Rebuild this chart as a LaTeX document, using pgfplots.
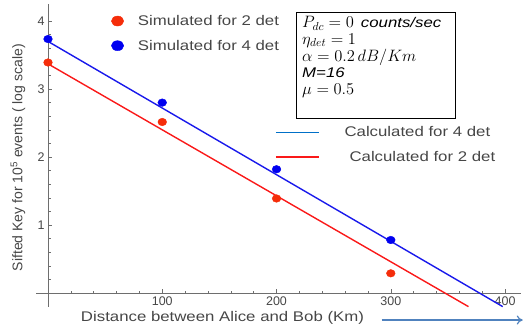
\documentclass[border=0pt]{standalone}
\usepackage{fontspec}
\setmainfont{Liberation Sans}[FakeStretch=1.2]
\newfontfamily\plainsans{Liberation Sans}
\usepackage{fix-cm}
\usepackage{pgfplots}
\pgfplotsset{compat=1.18}
\usetikzlibrary{arrows.meta}
\definecolor{lblue}{RGB}{25,25,235}
\definecolor{lred}{RGB}{250,25,25}
\definecolor{dred}{RGB}{245,45,10}
\definecolor{dblue}{RGB}{0,0,240}
\definecolor{legblue}{RGB}{0,112,200}
\definecolor{axgray}{RGB}{110,110,110}
\definecolor{txtgray}{RGB}{70,70,70}
\definecolor{arrowblue}{RGB}{80,130,190}
\newcommand{\bm}[1]{{\fontsize{16.5}{16.7}\selectfont$#1$}}

\pgfplotsset{
  common/.style={
    scale only axis, width=485pt, height=302.6pt,
    xmin=-10.5, xmax=414, ymin=-0.2, ymax=4.25,
    clip=false,
  }
}

\pgfplotstableread{
x y
0   3.735
100 2.80
200 1.82
300 0.78
}\simfour
\pgfplotstableread{
x y
0   3.39
100 2.515
200 1.39
300 0.29
}\simtwo
\pgfplotstableread{
x y
0   3.70
398 -0.20
}\calcfour
\pgfplotstableread{
x y
0   3.37
368 -0.20
}\calctwo

\begin{document}
\begin{tikzpicture}
\begin{axis}[common,
  axis lines=middle,
  axis line style={axgray, line width=0.6pt, -},
  xtick={0,100,200,300,400}, xticklabels={,100,200,300,400},
  ytick={0,1,2,3,4}, yticklabels={,1,2,3,4},
  minor x tick num=4, minor y tick num=4,
  tick align=inside,
  major tick length=4pt, minor tick length=2.5pt,
  every tick/.style={axgray, line width=0.5pt},
  /pgf/number format/assume math mode=true,
  ticklabel style={font=\plainsans\fontsize{12.5}{14}\selectfont, text=txtgray},
  legend image code/.code={\draw[#1] (0pt,0pt) -- (43pt,0pt);},
  legend style={draw=none, fill=none, at={(axis cs:198.7,2.45)}, anchor=north west,
    inner sep=0pt, row sep=12.8pt, column sep=25pt,
    nodes={inner sep=0pt, font=\fontsize{14}{16}\selectfont, text=txtgray}},
  legend cell align=left,
]
\addplot[lblue, line width=1.4pt, forget plot] table[x=x,y=y] {\calcfour};
\addplot[lred, line width=1.4pt, forget plot] table[x=x,y=y] {\calctwo};
\addlegendimage{legblue, line width=1.3pt}
\addlegendentry{Calculated for 4 det}
\addlegendimage{lred, line width=1.3pt}
\addlegendentry{\hspace{5pt}Calculated for 2 det}

\node[draw=black, line width=0.9pt, anchor=north west, minimum width=159pt, minimum height=106pt, inner sep=0pt] at (axis cs:217.1,4.132) {};
\node[anchor=north west, align=left, inner sep=0pt, font=\fontsize{14}{16.7}\selectfont] at (axis cs:222.3,4.07)
  {\bm{P_{dc} = 0}\, \textit{counts/sec}\\ \bm{\eta_{det} = 1}\\ \bm{\alpha = 0.2\,dB/Km}\\ \textit{M=16}\\ \bm{\mu = 0.5}};

\node[rotate=90, font=\plainsans\fontsize{14}{16}\selectfont, text=txtgray] at (axis cs:-26.3,1.99)
  {Sifted Key for 10\textsuperscript{5} events ( log scale)};
\node[font=\fontsize{14}{16}\selectfont, text=txtgray] at (axis cs:152.7,-0.36)
  {Distance between Alice and Bob (Km)};
\draw[arrowblue, line width=1.2pt, -{To[length=6pt,width=9pt]}] (axis cs:292,-0.397) -- (axis cs:415.5,-0.397);

\coordinate (bl) at (axis cs:-42.01,-0.485);
\coordinate (tr) at (axis cs:416.6,4.309);
\end{axis}

\begin{axis}[common,
  axis lines=none, xtick=\empty, ytick=\empty,
  legend image code/.code={\fill[#1] (0pt,0pt) ellipse (6.2pt and 5pt);},
  legend style={draw=none, fill=none, at={(axis cs:55.1,4.088)}, anchor=north west,
    inner sep=0pt, row sep=13pt, column sep=14pt,
    nodes={inner sep=0pt, font=\fontsize{14}{16}\selectfont, text=txtgray}},
  legend cell align=left,
]
\addplot[only marks, mark=*, mark size=3.8pt, color=dred, mark options={xscale=1.15}, forget plot] table[x=x,y=y] {\simtwo};
\addplot[only marks, mark=*, mark size=3.8pt, color=dblue, mark options={xscale=1.15}, forget plot] table[x=x,y=y] {\simfour};
\addlegendimage{color=dred}
\addlegendentry{Simulated for 2 det}
\addlegendimage{color=dblue}
\addlegendentry{Simulated for 4 det}
\end{axis}
\pgfresetboundingbox
\path[use as bounding box] (bl) rectangle (tr);
\end{tikzpicture}
\end{document}
